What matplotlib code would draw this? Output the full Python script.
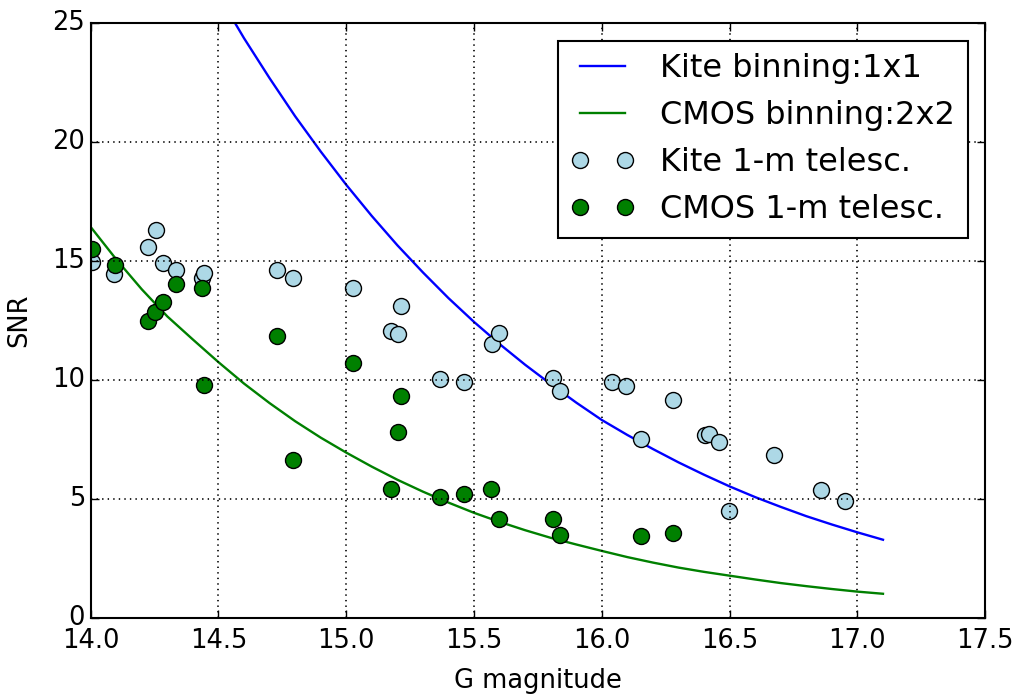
import matplotlib
matplotlib.use('Agg')
import matplotlib.pyplot as plt
import numpy as np

plt.style.use('classic')

# model SNR curves sampled every 0.1 mag
mag_grid = [14.0, 14.1, 14.2, 14.3, 14.4, 14.5, 14.6, 14.7, 14.8, 14.9,
            15.0, 15.1, 15.2, 15.3, 15.4, 15.5, 15.6, 15.7, 15.8, 15.9,
            16.0, 16.1, 16.2, 16.3, 16.4, 16.5, 16.6, 16.7, 16.8, 16.9,
            17.0, 17.1]
snr_kite_1x1 = [34.5, 32.1, 29.8, 27.8, 26.9, 26.17, 24.36, 22.68, 21.08, 19.60,
                18.20, 16.89, 15.66, 14.52, 13.44, 12.44, 11.51, 10.64, 9.83, 9.05,
                8.32, 7.69, 7.10, 6.54, 6.02, 5.53, 5.08, 4.67, 4.28, 3.93,
                3.60, 3.29]
snr_cmos_2x2 = [16.43, 15.07, 13.81, 12.67, 11.70, 10.75, 9.85, 9.03, 8.27, 7.58,
                6.95, 6.36, 5.81, 5.31, 4.85, 4.42, 4.04, 3.69, 3.37, 3.09,
                2.82, 2.56, 2.33, 2.12, 1.94, 1.78, 1.62, 1.47, 1.34, 1.22,
                1.11, 1.02]

# measured stars, 1-m telescope
kite_mag = [14.005, 14.093, 14.225, 14.256, 14.284, 14.332, 14.434, 14.443,
            14.728, 14.792, 15.026, 15.175, 15.204, 15.213, 15.368, 15.461,
            15.569, 15.599, 15.810, 15.838, 16.040, 16.096, 16.152, 16.280,
            16.404, 16.421, 16.459, 16.497, 16.674, 16.856, 16.953]
kite_snr = [14.95, 14.46, 15.60, 16.30, 14.92, 14.63, 14.29, 14.51,
            14.63, 14.29, 13.88, 12.05, 11.93, 13.13, 10.04, 9.90,
            11.51, 11.98, 10.08, 9.55, 9.91, 9.73, 7.51, 9.17,
            7.68, 7.75, 7.40, 4.50, 6.87, 5.37, 4.91]

cmos_mag = [14.005, 14.097, 14.223, 14.253, 14.284, 14.332, 14.434, 14.443,
            14.728, 14.793, 15.026, 15.176, 15.204, 15.215, 15.368, 15.461,
            15.568, 15.599, 15.810, 15.838, 16.152, 16.280]
cmos_snr = [15.51, 14.84, 12.50, 12.85, 13.27, 14.05, 13.87, 9.77,
            11.84, 6.63, 10.72, 5.42, 7.80, 9.31, 5.10, 5.20,
            5.41, 4.18, 4.18, 3.49, 3.45, 3.58]

fig = plt.figure(figsize=(10.2, 6.96), dpi=100, facecolor='white')
ax = fig.add_axes([0.0889, 0.112, 0.877, 0.855])

ax.plot(mag_grid, snr_kite_1x1, color='blue', lw=1.7, label='Kite binning:1x1')
ax.plot(mag_grid, snr_cmos_2x2, color='green', lw=1.7, label='CMOS binning:2x2')
ax.plot(kite_mag, kite_snr, 'o', ls='none', color='lightblue', mec='black',
        mew=1.0, ms=11.5, label='Kite 1-m telesc.')
ax.plot(cmos_mag, cmos_snr, 'o', ls='none', color='green', mec='black',
        mew=1.0, ms=11.5, label='CMOS 1-m telesc.')

ax.set_xlim(14.0, 17.5)
ax.set_ylim(0, 25)
ax.set_xticks(np.arange(14.0, 17.51, 0.5))
ax.set_yticks(np.arange(0, 26, 5))
ax.set_xticklabels(['%.1f' % t for t in np.arange(14.0, 17.51, 0.5)])
ax.tick_params(labelsize=18.5, length=6, width=1)
ax.tick_params(axis='x', pad=7)
ax.grid(True, color='black', linestyle=':', lw=1.2)
for sp in ax.spines.values():
    sp.set_linewidth(1.5)

ax.set_xlabel('G magnitude', fontsize=18.5, labelpad=10)
ax.set_ylabel('SNR', fontsize=18.5, labelpad=14)

leg = ax.legend(loc='upper right', numpoints=2, fontsize=23, fancybox=False,
                handlelength=2.0, borderaxespad=0.55)
leg.get_frame().set_linewidth(1.5)
leg.get_frame().set_edgecolor('black')

fig.savefig('out.png', dpi=100, facecolor='white')
